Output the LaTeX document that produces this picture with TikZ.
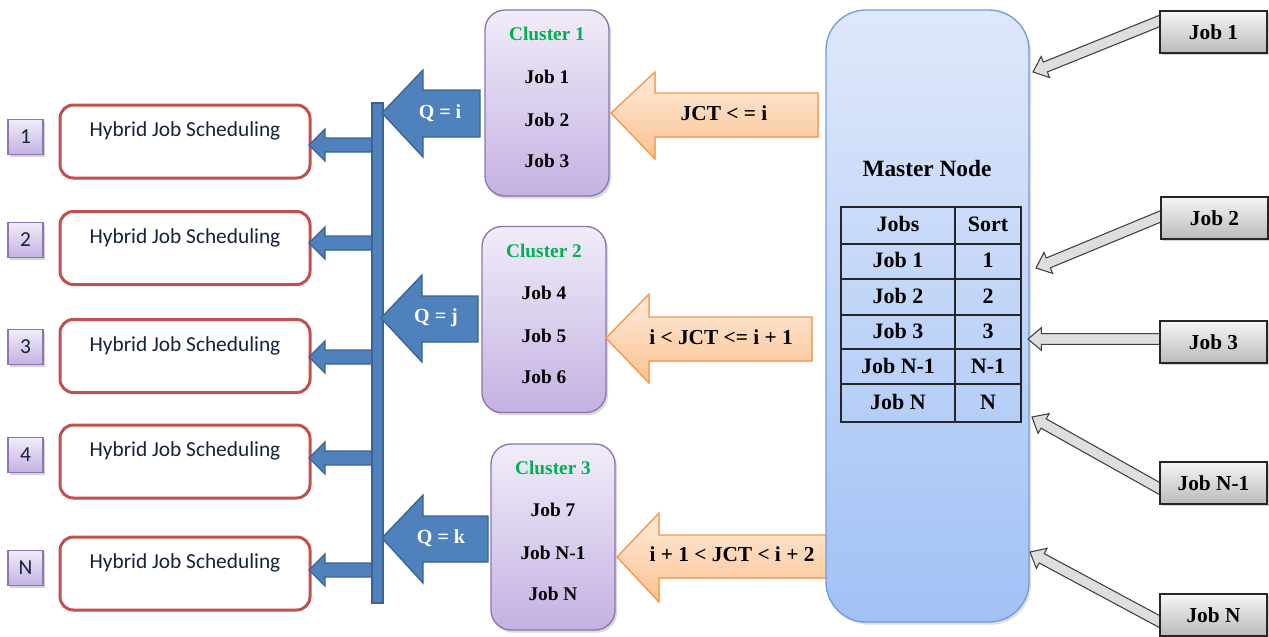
\documentclass[tikz,border=0pt]{standalone}
\usepackage{fontspec}
\setmainfont{Liberation Serif}
\newfontfamily\calfont{Carlito}
\usetikzlibrary{calc,shadows}
\definecolor{hyred}{HTML}{C0504D}
\definecolor{hytext}{HTML}{14223C}
\definecolor{bfill}{HTML}{4F81BD}
\definecolor{bdraw}{HTML}{3A6391}
\definecolor{ptop}{HTML}{F1ECF9}
\definecolor{pbot}{HTML}{C4B1E1}
\definecolor{pdraw}{HTML}{8E74B4}
\definecolor{otop}{HTML}{FDEBDC}
\definecolor{obot}{HTML}{FBC28F}
\definecolor{odraw}{HTML}{F79646}
\definecolor{mtop}{HTML}{DEE8FA}
\definecolor{mbot}{HTML}{A2C1F6}
\definecolor{mdraw}{HTML}{6F9DDB}
\definecolor{ctext}{HTML}{00B050}
\definecolor{gtop}{HTML}{F6F6F6}
\definecolor{gbot}{HTML}{BABABA}
\newcommand{\grayarrow}[2]{%
  \coordinate (gabase) at ($(#2)!10pt!(#1)$);
  \filldraw[garrow] ($(#1)!4pt!90:(#2)$) -- ($(gabase)!4pt!90:(#2)$)
    -- ($(gabase)!8.5pt!90:(#2)$) -- (#2) -- ($(gabase)!8.5pt!-90:(#2)$)
    -- ($(gabase)!4pt!-90:(#2)$) -- ($(#1)!4pt!-90:(#2)$) -- cycle;}
\begin{document}
\begin{tikzpicture}[x=0.75pt,y=-0.75pt,
  numbox/.style={draw=pdraw, line width=0.9pt, top color=ptop, bottom color=pbot,
    minimum width=26.25pt, minimum height=26.25pt, inner sep=0pt,
    font=\calfont\fontsize{16}{18}\selectfont, text=hytext,
    drop shadow={opacity=0.35, shadow xshift=1.5pt, shadow yshift=-1.5pt}},
  hybox/.style={draw=hyred, line width=2.25pt, fill=white, rounded corners=10pt,
    minimum width=187.5pt, minimum height=54.75pt, inner sep=0pt},
  hylabel/.style={font=\calfont\fontsize{16}{19}\selectfont, text=hytext, anchor=base, yshift=-24.75pt},
  bluearrow/.style={fill=bfill, draw=bdraw, line width=1pt},
  orangearrow/.style={top color=otop, bottom color=obot, draw=odraw, line width=1pt},
  clusterbox/.style={draw=pdraw, line width=1pt, top color=ptop, bottom color=pbot,
    rounded corners=15pt, minimum width=93pt, minimum height=139.5pt, inner sep=0pt,
    drop shadow={opacity=0.3, shadow xshift=1.5pt, shadow yshift=-2pt}},
  jobtxt/.style={font=\bfseries\fontsize{14.5}{17}\selectfont},
  cltxt/.style={font=\bfseries\fontsize{14.5}{17}\selectfont, text=ctext},
  qtxt/.style={font=\bfseries\fontsize{15}{18}\selectfont, text=white},
  otxt/.style={font=\bfseries\fontsize{16}{19}\selectfont},
  masterbox/.style={draw=mdraw, line width=1pt, top color=mtop, bottom color=mbot,
    rounded corners=30pt, minimum width=152.25pt, minimum height=459pt, inner sep=0pt,
    drop shadow={opacity=0.25, shadow xshift=1.5pt, shadow yshift=-2pt}},
  tbltxt/.style={font=\bfseries\fontsize{16.5}{19}\selectfont},
  jobbox/.style={draw=black!85, line width=1.2pt, top color=gtop, bottom color=gbot,
    minimum width=80.25pt, minimum height=31.5pt, inner sep=0pt,
    font=\bfseries\fontsize{16}{19}\selectfont,
    drop shadow={opacity=0.35, shadow xshift=1.5pt, shadow yshift=-1.5pt}},
  garrow/.style={draw=black!75, line width=0.8pt, fill=black!13}
]
\useasboundingbox (0,0) rectangle (1269,636);

% ---------- left column: numbers and hybrid boxes ----------
\node[numbox] (n1) at (25.5,137) {1};
\node[numbox] (n2) at (25.5,240) {2};
\node[numbox] (n3) at (25.5,347) {3};
\node[numbox] (n4) at (25.5,455) {4};
\node[numbox] (nN) at (25.5,568) {N};

\node[hybox, label={[hylabel]north:Hybrid Job Scheduling}] (h1) at (185,141.5) {};
\node[hybox, label={[hylabel]north:Hybrid Job Scheduling}] (h2) at (185,248) {};
\node[hybox, label={[hylabel]north:Hybrid Job Scheduling}] (h3) at (185,356) {};
\node[hybox, label={[hylabel]north:Hybrid Job Scheduling}] (h4) at (185,461.5) {};
\node[hybox, label={[hylabel]north:Hybrid Job Scheduling}] (hN) at (185,573.5) {};

% ---------- blue bus with branches ----------
\foreach \r in {145,243,357,458,570} {
  \filldraw[bluearrow] (309,\r) -- (325,\r-16) -- (325,\r-7) -- (378,\r-7)
    -- (378,\r+7) -- (325,\r+7) -- (325,\r+16) -- cycle;
}
\filldraw[bluearrow] (372,103) rectangle (383,603);

% ---------- big blue arrows ----------
\filldraw[bluearrow] (382,113) -- (423,70) -- (423,90) -- (480,90) -- (480,137)
  -- (423,137) -- (423,157) -- cycle;
\node[qtxt] (qi) at (440,113) {Q = i};
\filldraw[bluearrow] (381,318) -- (422,275) -- (422,296) -- (478,296) -- (478,342)
  -- (422,342) -- (422,362) -- cycle;
\node[qtxt] (qj) at (436,318) {Q = j};
\filldraw[bluearrow] (382,538) -- (423,495) -- (423,516) -- (488,516) -- (488,562)
  -- (423,562) -- (423,583) -- cycle;
\node[qtxt] (qk) at (441,538) {Q = k};

% ---------- clusters ----------
\node[clusterbox] (c1) at (547,103) {};
\node[cltxt] at (547,34) {Cluster 1};
\node[jobtxt] at (547,77) {Job 1};
\node[jobtxt] at (547,120) {Job 2};
\node[jobtxt] at (547,161) {Job 3};

\node[clusterbox] (c2) at (544,319.5) {};
\node[cltxt] at (544,251) {Cluster 2};
\node[jobtxt] at (544,293) {Job 4};
\node[jobtxt] at (544,336) {Job 5};
\node[jobtxt] at (544,377) {Job 6};

\node[clusterbox] (c3) at (553,537) {};
\node[cltxt] at (553,468) {Cluster 3};
\node[jobtxt] at (553,510) {Job 7};
\node[jobtxt] at (553,553) {Job N-1};
\node[jobtxt] at (553,594) {Job N};

% ---------- orange arrows ----------
\filldraw[orangearrow] (611,113) -- (655,72) -- (655,93) -- (818,93) -- (818,137)
  -- (655,137) -- (655,159) -- cycle;
\node[otxt] (o1) at (724,113) {JCT < = i};
\filldraw[orangearrow] (606,338) -- (649,294) -- (649,317) -- (812,317) -- (812,361)
  -- (649,361) -- (649,383) -- cycle;
\node[otxt] (o2) at (721,337) {i < JCT <= i + 1};
\filldraw[orangearrow] (617,557) -- (659,513) -- (659,535) -- (827,535) -- (827,578)
  -- (659,578) -- (659,602) -- cycle;
\node[otxt] (o3) at (732,554) {i + 1 < JCT < i + 2};

% ---------- master node ----------
\node[masterbox] (m) at (927.5,316) {};
\node[font=\bfseries\fontsize{17.5}{20}\selectfont] (mt) at (927,169) {Master Node};
\draw[line width=1.1pt, black!85] (841,207) rectangle (1021,422);
\draw[line width=1.1pt, black!85] (955,207) -- (955,422);
\foreach \yy in {244,279,315,349,384} { \draw[line width=1.1pt, black!85] (841,\yy) -- (1021,\yy); }
\node[tbltxt] at (898,224) {Jobs};
\node[tbltxt] at (988,224) {Sort};
\node[tbltxt] at (898,260) {Job 1};
\node[tbltxt] at (988,260) {1};
\node[tbltxt] at (898,296) {Job 2};
\node[tbltxt] at (988,296) {2};
\node[tbltxt] at (898,331) {Job 3};
\node[tbltxt] at (988,331) {3};
\node[tbltxt] at (898,366) {Job N-1};
\node[tbltxt] at (988,366) {N-1};
\node[tbltxt] at (898,402) {Job N};
\node[tbltxt] at (988,402) {N};

% ---------- incoming jobs ----------
\coordinate (t1) at (1162,20);   \coordinate (p1) at (1033,72);
\coordinate (t2) at (1164,215);  \coordinate (p2) at (1036,268);
\coordinate (t3) at (1164,339);  \coordinate (p3) at (1028,339);
\coordinate (t4) at (1164,491);  \coordinate (p4) at (1032,417);
\coordinate (t5) at (1164,624);  \coordinate (p5) at (1030,552);
\grayarrow{t1}{p1}
\grayarrow{t2}{p2}
\grayarrow{t3}{p3}
\grayarrow{t4}{p4}
\grayarrow{t5}{p5}

\node[jobbox] (j1) at (1213.5,32) {Job 1};
\node[jobbox] (j2) at (1214.5,218) {Job 2};
\node[jobbox] (j3) at (1213.5,342) {Job 3};
\node[jobbox] (jn1) at (1213.5,483) {Job N-1};
\node[jobbox] (jn) at (1213.5,615) {Job N};
\end{tikzpicture}
\end{document}
